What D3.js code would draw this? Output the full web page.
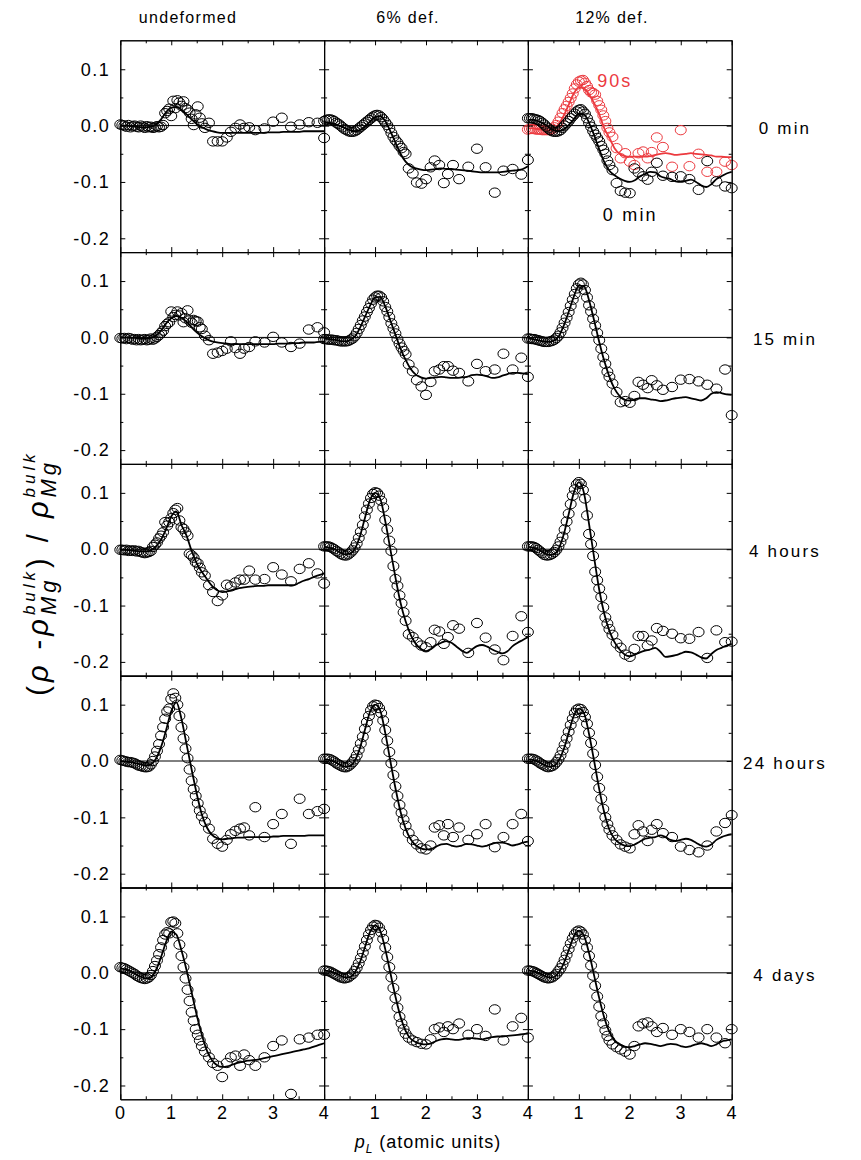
<!DOCTYPE html>
<html>
<head>
<meta charset="utf-8">
<script src="https://cdn.jsdelivr.net/npm/d3@7"></script>
<style>
  body { margin: 0; background: #fff; }
  text { font-family: "Liberation Sans", Arial, sans-serif; }
</style>
</head>
<body>
<div id="container"></div>
<script>
// row / column labels
const rowLabels = ["0 min", "15 min", "4 hours", "24 hours", "4 days"];
const colLabels = ["undeformed", "6% def.", "12% def."];

// momentum grid of the measured points, and grid of the fitted curves
const pGrid = [0,0.04,0.08,0.12,0.16,0.2,0.24,0.28,0.32,0.36,0.4,0.44,0.48,0.52,0.56,0.6,0.64,0.68,0.72,0.76,0.8,
  0.84,0.88,0.92,0.96,1,1.04,1.08,1.12,1.16,1.2,1.24,1.28,1.32,1.36,1.4,1.44,1.48,1.52,1.56,1.6,
  1.66,1.74,1.82,1.91,2,2.09,2.17,2.26,2.35,2.43,2.53,2.65,2.83,3,3.17,3.35,3.52,3.7,3.87,4];
const fitGrid = [0,0.1,0.2,0.3,0.4,0.5,0.6,0.7,0.8,0.9,1,1.1,1.2,1.3,1.4,1.5,1.6,1.7,1.8,1.9,
  2,2.1,2.2,2.3,2.4,2.5,2.6,2.7,2.8,2.9,3,3.1,3.2,3.3,3.4,3.5,3.6,3.7,3.8,3.9,4];

// ---- 0 min ----
const und0Pts = [0.002,0.001,0.000,-0.002,0.001,-0.003,-0.001,0.000,-0.002,-0.003,0.000,-0.002,-0.004,-0.001,-0.003,-0.002,-0.004,-0.003,-0.001,-0.003,-0.002,
  0.001,0.022,0.026,0.030,0.017,0.044,0.031,0.045,0.041,0.035,0.043,0.031,0.028,0.023,0.012,0.001,0.020,0.034,0.014,0.004,
  -0.004,0.005,-0.028,-0.028,-0.028,-0.021,-0.011,-0.004,0.002,-0.004,-0.003,-0.008,-0.005,0.007,0.014,-0.002,0.002,0.006,0.005,-0.022];
const und0Fit = [0,0,-0.001,-0.002,-0.003,-0.003,-0.002,0.002,0.011,0.024,0.032,0.033,0.028,0.020,0.011,0.003,-0.003,-0.007,-0.010,-0.012,
  -0.013,-0.013,-0.013,-0.013,-0.013,-0.013,-0.013,-0.013,-0.013,-0.012,-0.012,-0.012,-0.011,-0.011,-0.011,-0.011,-0.010,-0.010,-0.010,-0.010,-0.010];

const d6_0Pts = [0.008,0.010,0.011,0.011,0.010,0.008,0.005,0.003,0.000,-0.003,-0.006,-0.008,-0.010,-0.011,-0.011,-0.010,-0.008,-0.005,-0.002,0.001,0.004,
  0.007,0.010,0.013,0.016,0.018,0.019,0.018,0.015,0.011,0.006,0.001,-0.005,-0.013,-0.020,-0.026,-0.030,-0.036,-0.040,-0.047,-0.050,
  -0.076,-0.085,-0.101,-0.103,-0.095,-0.074,-0.062,-0.070,-0.102,-0.086,-0.070,-0.095,-0.073,-0.041,-0.074,-0.119,-0.080,-0.077,-0.087,-0.061];
const d6_0Fit = [0.006,0.005,0.003,0.000,-0.004,-0.008,-0.010,-0.008,-0.002,0.007,0.015,0.017,0.008,-0.010,-0.030,-0.050,-0.064,-0.072,-0.076,-0.078,
  -0.079,-0.078,-0.077,-0.076,-0.077,-0.077,-0.078,-0.079,-0.080,-0.081,-0.082,-0.083,-0.083,-0.083,-0.083,-0.082,-0.081,-0.080,-0.079,-0.077,-0.072];

const d12_0Pts = [0.013,0.013,0.013,0.012,0.011,0.010,0.008,0.005,0.002,-0.002,-0.005,-0.008,-0.010,-0.011,-0.011,-0.010,-0.008,-0.004,0.000,0.004,0.008,
  0.013,0.017,0.021,0.025,0.028,0.029,0.025,0.021,0.013,0.005,-0.002,-0.010,-0.016,-0.022,-0.028,-0.036,-0.043,-0.050,-0.062,-0.070,
  -0.079,-0.102,-0.116,-0.119,-0.120,-0.076,-0.083,-0.090,-0.096,-0.082,-0.066,-0.089,-0.091,-0.090,-0.095,-0.114,-0.063,-0.099,-0.108,-0.111];
const d12_0Fit = [0.010,0.010,0.008,0.004,-0.002,-0.008,-0.010,-0.007,0.001,0.011,0.021,0.020,0.005,-0.017,-0.042,-0.065,-0.080,-0.088,-0.094,-0.098,
  -0.100,-0.097,-0.090,-0.086,-0.082,-0.083,-0.090,-0.093,-0.095,-0.099,-0.100,-0.098,-0.096,-0.100,-0.106,-0.109,-0.104,-0.095,-0.090,-0.085,-0.082];

const d12_90sPts = [-0.007,-0.006,-0.006,-0.006,-0.007,-0.007,-0.007,-0.008,-0.008,-0.008,-0.008,-0.008,-0.006,-0.003,0.001,0.007,0.014,0.022,0.029,0.035,0.042,
  0.049,0.057,0.066,0.073,0.078,0.080,0.081,0.076,0.070,0.063,0.059,0.058,0.055,0.044,0.036,0.028,0.018,0.008,-0.004,-0.012,
  -0.020,-0.040,-0.058,-0.049,-0.064,-0.070,-0.049,-0.046,-0.058,-0.047,-0.021,-0.038,-0.073,-0.008,-0.072,-0.050,-0.082,-0.082,-0.064,-0.070];
const d12_90sFit = [-0.005,-0.005,-0.006,-0.007,-0.008,-0.006,0.002,0.017,0.037,0.057,0.068,0.066,0.055,0.040,0.020,-0.005,-0.022,-0.040,-0.050,-0.054,
  -0.055,-0.055,-0.055,-0.055,-0.054,-0.052,-0.050,-0.049,-0.050,-0.052,-0.051,-0.050,-0.049,-0.050,-0.051,-0.052,-0.053,-0.055,-0.055,-0.056,-0.056];

// ---- 15 min ----
const und15Pts = [-0.001,-0.002,-0.001,-0.003,-0.001,-0.002,-0.004,-0.003,-0.005,-0.003,-0.005,-0.004,-0.003,-0.005,-0.004,-0.002,-0.004,-0.002,0.001,0.004,0.008,
  0.012,0.020,0.024,0.027,0.046,0.036,0.040,0.046,0.039,0.043,0.027,0.034,0.048,0.030,0.026,0.031,0.029,0.028,0.018,0.015,
  0.003,-0.005,-0.029,-0.027,-0.024,-0.020,-0.007,-0.019,-0.029,-0.020,-0.017,-0.007,-0.009,0.001,-0.009,-0.017,-0.011,0.014,0.018,0.009];
const und15Fit = [0,0,-0.001,-0.001,-0.002,-0.002,-0.001,0.003,0.012,0.025,0.034,0.038,0.035,0.028,0.018,0.009,0.002,-0.003,-0.007,-0.009,
  -0.010,-0.011,-0.012,-0.012,-0.012,-0.012,-0.012,-0.012,-0.012,-0.012,-0.012,-0.011,-0.011,-0.011,-0.010,-0.010,-0.009,-0.009,-0.009,-0.008,-0.008];

const d6_15Pts = [-0.003,-0.003,-0.004,-0.004,-0.004,-0.005,-0.005,-0.006,-0.007,-0.007,-0.007,-0.007,-0.006,-0.004,-0.002,0.002,0.008,0.015,0.022,0.030,0.037,
  0.045,0.052,0.060,0.067,0.071,0.074,0.074,0.071,0.064,0.054,0.046,0.036,0.025,0.016,0.007,-0.003,-0.011,-0.018,-0.024,-0.030,
  -0.048,-0.060,-0.076,-0.087,-0.102,-0.079,-0.060,-0.057,-0.051,-0.051,-0.059,-0.063,-0.078,-0.047,-0.060,-0.057,-0.029,-0.057,-0.036,-0.070];
const d6_15Fit = [-0.002,-0.003,-0.004,-0.006,-0.007,-0.005,0.001,0.016,0.036,0.056,0.071,0.072,0.055,0.030,0.005,-0.020,-0.040,-0.056,-0.066,-0.071,
  -0.073,-0.072,-0.071,-0.070,-0.071,-0.072,-0.072,-0.071,-0.070,-0.067,-0.066,-0.067,-0.069,-0.072,-0.071,-0.068,-0.065,-0.063,-0.063,-0.064,-0.065];

const d12_15Pts = [-0.002,-0.002,-0.003,-0.003,-0.004,-0.005,-0.006,-0.007,-0.008,-0.008,-0.008,-0.007,-0.006,-0.004,-0.001,0.003,0.009,0.017,0.026,0.035,0.045,
  0.056,0.067,0.077,0.087,0.094,0.097,0.094,0.084,0.071,0.057,0.046,0.033,0.021,0.008,-0.005,-0.020,-0.035,-0.047,-0.061,-0.070,
  -0.082,-0.097,-0.115,-0.113,-0.116,-0.104,-0.079,-0.084,-0.090,-0.076,-0.085,-0.093,-0.088,-0.075,-0.074,-0.078,-0.084,-0.091,-0.057,-0.138];
const d12_15Fit = [-0.002,-0.003,-0.005,-0.007,-0.008,-0.006,0.001,0.020,0.045,0.072,0.092,0.091,0.066,0.030,-0.008,-0.042,-0.070,-0.091,-0.104,-0.111,
  -0.112,-0.110,-0.108,-0.108,-0.110,-0.111,-0.113,-0.112,-0.110,-0.108,-0.107,-0.106,-0.108,-0.110,-0.112,-0.108,-0.100,-0.097,-0.099,-0.101,-0.102];

// ---- 4 hours ----
const und4hPts = [-0.001,-0.001,-0.002,-0.001,-0.003,-0.002,-0.003,-0.002,-0.004,-0.003,-0.005,-0.006,-0.007,-0.006,-0.005,-0.003,0.004,0.008,0.012,0.019,0.024,
  0.030,0.048,0.042,0.048,0.055,0.064,0.070,0.073,0.051,0.039,0.036,0.030,0.024,-0.008,-0.011,-0.015,-0.023,-0.025,-0.033,-0.041,
  -0.047,-0.064,-0.076,-0.092,-0.082,-0.063,-0.066,-0.059,-0.054,-0.054,-0.038,-0.054,-0.053,-0.032,-0.045,-0.057,-0.035,-0.025,-0.043,-0.061];
const und4hFit = [-0.001,-0.001,-0.002,-0.003,-0.004,-0.004,-0.002,0.005,0.017,0.036,0.058,0.067,0.043,0.024,-0.003,-0.025,-0.040,-0.053,-0.065,-0.073,
  -0.076,-0.075,-0.072,-0.070,-0.068,-0.067,-0.066,-0.065,-0.065,-0.064,-0.064,-0.064,-0.064,-0.064,-0.064,-0.060,-0.056,-0.053,-0.049,-0.046,-0.043];

const d6_4hPts = [0.005,0.005,0.005,0.004,0.002,0.000,-0.003,-0.005,-0.008,-0.010,-0.011,-0.011,-0.009,-0.006,-0.002,0.003,0.010,0.020,0.031,0.043,0.058,
  0.070,0.081,0.091,0.098,0.101,0.100,0.095,0.086,0.074,0.052,0.035,0.015,-0.003,-0.030,-0.053,-0.065,-0.082,-0.096,-0.112,-0.127,
  -0.151,-0.156,-0.165,-0.171,-0.174,-0.165,-0.143,-0.146,-0.168,-0.156,-0.135,-0.141,-0.184,-0.131,-0.157,-0.178,-0.197,-0.154,-0.119,-0.147];
const d6_4hFit = [0.004,0.003,0.000,-0.005,-0.009,-0.008,0.000,0.022,0.055,0.087,0.100,0.090,0.050,0.000,-0.050,-0.095,-0.128,-0.152,-0.168,-0.177,
  -0.181,-0.177,-0.170,-0.166,-0.163,-0.166,-0.173,-0.180,-0.184,-0.178,-0.172,-0.170,-0.173,-0.178,-0.182,-0.185,-0.181,-0.172,-0.166,-0.161,-0.156];

const d12_4hPts = [0.005,0.005,0.005,0.004,0.002,-0.001,-0.004,-0.007,-0.010,-0.011,-0.011,-0.010,-0.008,-0.005,-0.001,0.005,0.013,0.022,0.035,0.049,0.063,
  0.080,0.095,0.106,0.115,0.119,0.116,0.105,0.090,0.060,0.027,0.009,-0.012,-0.040,-0.055,-0.070,-0.085,-0.103,-0.121,-0.132,-0.142,
  -0.152,-0.167,-0.175,-0.187,-0.191,-0.177,-0.154,-0.154,-0.171,-0.162,-0.140,-0.145,-0.150,-0.158,-0.159,-0.147,-0.193,-0.144,-0.165,-0.164];
const d12_4hFit = [0.004,0.003,0.000,-0.006,-0.010,-0.009,0.000,0.025,0.062,0.100,0.119,0.100,0.045,-0.015,-0.072,-0.115,-0.145,-0.165,-0.178,-0.187,
  -0.190,-0.187,-0.183,-0.180,-0.178,-0.175,-0.182,-0.191,-0.190,-0.188,-0.185,-0.182,-0.183,-0.187,-0.192,-0.194,-0.186,-0.179,-0.175,-0.171,-0.168];

// ---- 24 hours ----
const und24hPts = [0.002,0.001,0.000,-0.001,-0.002,-0.002,-0.003,-0.004,-0.006,-0.008,-0.009,-0.010,-0.011,-0.011,-0.010,-0.006,0.000,0.008,0.018,0.030,0.045,
  0.060,0.075,0.088,0.093,0.110,0.120,0.112,0.100,0.080,0.060,0.040,0.022,0.005,-0.015,-0.035,-0.050,-0.062,-0.075,-0.088,-0.098,
  -0.108,-0.120,-0.138,-0.147,-0.152,-0.140,-0.130,-0.124,-0.120,-0.118,-0.132,-0.082,-0.135,-0.112,-0.094,-0.147,-0.067,-0.094,-0.089,-0.085];
const und24hFit = [0.000,-0.001,-0.002,-0.004,-0.006,-0.008,-0.006,0.004,0.025,0.055,0.088,0.104,0.075,0.030,-0.015,-0.058,-0.095,-0.118,-0.131,-0.137,
  -0.139,-0.138,-0.137,-0.136,-0.136,-0.135,-0.135,-0.135,-0.135,-0.135,-0.134,-0.134,-0.133,-0.133,-0.133,-0.133,-0.133,-0.132,-0.132,-0.132,-0.132];

const d6_24hPts = [0.004,0.004,0.004,0.003,0.001,-0.001,-0.004,-0.006,-0.008,-0.010,-0.011,-0.011,-0.009,-0.006,-0.002,0.003,0.010,0.020,0.031,0.043,0.057,
  0.069,0.080,0.090,0.097,0.100,0.099,0.094,0.085,0.072,0.055,0.036,0.016,-0.004,-0.025,-0.045,-0.062,-0.078,-0.092,-0.104,-0.115,
  -0.128,-0.140,-0.148,-0.155,-0.157,-0.150,-0.118,-0.114,-0.132,-0.112,-0.135,-0.118,-0.140,-0.130,-0.112,-0.153,-0.135,-0.112,-0.094,-0.142];
const d6_24hFit = [0.003,0.002,-0.001,-0.006,-0.010,-0.009,0.000,0.022,0.055,0.087,0.100,0.090,0.050,0.000,-0.048,-0.090,-0.120,-0.139,-0.150,-0.155,
  -0.157,-0.156,-0.152,-0.148,-0.147,-0.150,-0.152,-0.150,-0.147,-0.148,-0.150,-0.152,-0.150,-0.147,-0.145,-0.145,-0.147,-0.150,-0.148,-0.145,-0.143];

const d12_24hPts = [0.004,0.004,0.004,0.003,0.001,-0.001,-0.004,-0.006,-0.008,-0.010,-0.011,-0.010,-0.009,-0.006,-0.002,0.003,0.010,0.019,0.029,0.040,0.052,
  0.064,0.075,0.085,0.091,0.093,0.092,0.087,0.078,0.066,0.050,0.032,0.013,-0.007,-0.028,-0.048,-0.067,-0.085,-0.100,-0.112,-0.122,
  -0.132,-0.140,-0.148,-0.152,-0.155,-0.130,-0.114,-0.125,-0.142,-0.122,-0.112,-0.128,-0.135,-0.152,-0.158,-0.162,-0.150,-0.125,-0.110,-0.096];
const d12_24hFit = [0.003,0.002,-0.001,-0.006,-0.010,-0.009,0.000,0.020,0.050,0.080,0.093,0.085,0.048,0.000,-0.050,-0.092,-0.122,-0.138,-0.146,-0.150,
  -0.151,-0.148,-0.143,-0.138,-0.136,-0.135,-0.132,-0.135,-0.140,-0.142,-0.140,-0.138,-0.140,-0.145,-0.150,-0.152,-0.148,-0.140,-0.135,-0.132,-0.130];

// ---- 4 days ----
const und4dPts = [0.010,0.009,0.008,0.006,0.004,0.002,0.000,-0.002,-0.005,-0.007,-0.009,-0.010,-0.011,-0.010,-0.008,-0.004,0.003,0.012,0.022,0.033,0.045,
  0.058,0.068,0.072,0.070,0.090,0.091,0.088,0.070,0.050,0.030,0.010,-0.010,-0.030,-0.050,-0.070,-0.085,-0.100,-0.110,-0.120,-0.130,
  -0.140,-0.150,-0.160,-0.165,-0.185,-0.160,-0.150,-0.147,-0.165,-0.145,-0.155,-0.165,-0.150,-0.130,-0.120,-0.215,-0.118,-0.115,-0.110,-0.110];
const und4dFit = [0.008,0.006,0.003,-0.002,-0.007,-0.010,-0.008,0.005,0.028,0.055,0.073,0.068,0.040,0.005,-0.035,-0.075,-0.110,-0.138,-0.155,-0.164,
  -0.167,-0.166,-0.163,-0.160,-0.158,-0.156,-0.155,-0.154,-0.152,-0.150,-0.148,-0.146,-0.144,-0.142,-0.140,-0.138,-0.136,-0.134,-0.131,-0.128,-0.125];

const d6_4dPts = [0.004,0.004,0.003,0.002,0.000,-0.002,-0.004,-0.006,-0.008,-0.009,-0.010,-0.009,-0.008,-0.005,-0.002,0.003,0.009,0.017,0.026,0.036,0.047,
  0.058,0.068,0.076,0.082,0.085,0.084,0.080,0.072,0.060,0.045,0.028,0.010,-0.008,-0.027,-0.045,-0.062,-0.078,-0.090,-0.100,-0.108,
  -0.115,-0.120,-0.123,-0.126,-0.127,-0.118,-0.100,-0.097,-0.105,-0.095,-0.100,-0.090,-0.110,-0.100,-0.112,-0.065,-0.120,-0.095,-0.080,-0.115];
const d6_4dFit = [0.004,0.003,0.000,-0.004,-0.008,-0.008,0.000,0.018,0.045,0.072,0.084,0.075,0.042,0.000,-0.042,-0.078,-0.103,-0.117,-0.123,-0.126,
  -0.127,-0.125,-0.121,-0.118,-0.117,-0.118,-0.119,-0.118,-0.116,-0.116,-0.117,-0.118,-0.116,-0.114,-0.113,-0.113,-0.112,-0.111,-0.110,-0.109,-0.108];

const d12_4dPts = [0.004,0.004,0.003,0.002,0.000,-0.002,-0.004,-0.006,-0.008,-0.009,-0.010,-0.009,-0.008,-0.005,-0.002,0.003,0.008,0.015,0.023,0.032,0.042,
  0.052,0.061,0.068,0.073,0.075,0.073,0.068,0.058,0.045,0.030,0.013,-0.005,-0.023,-0.042,-0.060,-0.077,-0.090,-0.102,-0.112,-0.120,
  -0.127,-0.132,-0.136,-0.140,-0.145,-0.130,-0.095,-0.090,-0.088,-0.095,-0.105,-0.098,-0.110,-0.100,-0.105,-0.115,-0.100,-0.115,-0.125,-0.100];
const d12_4dFit = [0.004,0.003,0.000,-0.004,-0.008,-0.008,0.000,0.016,0.040,0.064,0.075,0.066,0.035,-0.005,-0.045,-0.080,-0.105,-0.120,-0.127,-0.131,
  -0.132,-0.130,-0.127,-0.125,-0.126,-0.128,-0.130,-0.128,-0.126,-0.127,-0.130,-0.132,-0.130,-0.127,-0.125,-0.127,-0.130,-0.127,-0.122,-0.120,-0.118];

const RED = "#ec3a3f";

const panels = [
  { r: 0, c: 0, series: [{ pts: und0Pts, fit: und0Fit, color: "#000" }] },
  { r: 0, c: 1, series: [{ pts: d6_0Pts, fit: d6_0Fit, color: "#000" }] },
  { r: 0, c: 2, series: [{ pts: d12_90sPts, fit: d12_90sFit, color: RED }, { pts: d12_0Pts, fit: d12_0Fit, color: "#000" }] },
  { r: 1, c: 0, series: [{ pts: und15Pts, fit: und15Fit, color: "#000" }] },
  { r: 1, c: 1, series: [{ pts: d6_15Pts, fit: d6_15Fit, color: "#000" }] },
  { r: 1, c: 2, series: [{ pts: d12_15Pts, fit: d12_15Fit, color: "#000" }] },
  { r: 2, c: 0, series: [{ pts: und4hPts, fit: und4hFit, color: "#000" }] },
  { r: 2, c: 1, series: [{ pts: d6_4hPts, fit: d6_4hFit, color: "#000" }] },
  { r: 2, c: 2, series: [{ pts: d12_4hPts, fit: d12_4hFit, color: "#000" }] },
  { r: 3, c: 0, series: [{ pts: und24hPts, fit: und24hFit, color: "#000" }] },
  { r: 3, c: 1, series: [{ pts: d6_24hPts, fit: d6_24hFit, color: "#000" }] },
  { r: 3, c: 2, series: [{ pts: d12_24hPts, fit: d12_24hFit, color: "#000" }] },
  { r: 4, c: 0, series: [{ pts: und4dPts, fit: und4dFit, color: "#000" }] },
  { r: 4, c: 1, series: [{ pts: d6_4dPts, fit: d6_4dFit, color: "#000" }] },
  { r: 4, c: 2, series: [{ pts: d12_4dPts, fit: d12_4dFit, color: "#000" }] }
];

// layout
const width = 861, height = 1160;
const plotLeft = 120.3, plotTop = 40.3, pw = 203.8, ph = 211.8;

const x = d3.scaleLinear().domain([0, 4]).range([0, pw]);
const y = d3.scaleLinear().domain([-0.2245, 0.1514]).range([ph, 0]);

const svg = d3.select("#container").append("svg")
    .attr("width", width)
    .attr("height", height);

const FONT = "'Liberation Sans', Arial, sans-serif";

const line = d3.line()
    .x((d, i) => x(fitGrid[i]))
    .y(d => y(d))
    .curve(d3.curveMonotoneX);

panels.forEach(p => {
  const g = svg.append("g")
      .attr("transform", `translate(${plotLeft + p.c * pw}, ${plotTop + p.r * ph})`);

  // zero line
  g.append("line")
      .attr("x1", x(0)).attr("x2", x(4))
      .attr("y1", y(0)).attr("y2", y(0))
      .attr("stroke", "#000").attr("stroke-width", 1);

  p.series.forEach(s => {
    const sg = g.append("g");
    sg.append("path")
        .datum(s.fit)
        .attr("d", line)
        .attr("fill", "none")
        .attr("stroke", s.color)
        .attr("stroke-width", 1.8);
    sg.selectAll("ellipse").data(s.pts).join("ellipse")
        .attr("cx", (d, i) => x(pGrid[i]))
        .attr("cy", d => y(d))
        .attr("rx", 5.5).attr("ry", 4.7)
        .attr("fill", "none")
        .attr("stroke", s.color)
        .attr("stroke-width", 1);
  });

  // axes, ticks inside
  const yMaj = [-0.2, -0.1, 0, 0.1], yMin = [-0.15, -0.05, 0.05];
  const xMaj = [0, 1, 2, 3, 4], xMin = [0.5, 1.5, 2.5, 3.5];
  const blank = () => "";

  g.append("g").call(d3.axisLeft(y).tickValues(yMaj).tickSize(-5).tickSizeOuter(0).tickPadding(10)
      .tickFormat(p.c === 0 ? d => d.toFixed(1) : blank));
  g.append("g").call(d3.axisLeft(y).tickValues(yMin).tickSize(-3).tickSizeOuter(0).tickFormat(blank));
  g.append("g").attr("transform", `translate(${pw},0)`)
      .call(d3.axisRight(y).tickValues(yMaj).tickSize(-5).tickSizeOuter(0).tickFormat(blank));
  g.append("g").attr("transform", `translate(${pw},0)`)
      .call(d3.axisRight(y).tickValues(yMin).tickSize(-3).tickSizeOuter(0).tickFormat(blank));
  g.append("g").call(d3.axisTop(x).tickValues(xMaj).tickSize(-5).tickSizeOuter(0).tickFormat(blank));
  g.append("g").call(d3.axisTop(x).tickValues(xMin).tickSize(-3).tickSizeOuter(0).tickFormat(blank));
  g.append("g").attr("transform", `translate(0,${ph})`)
      .call(d3.axisBottom(x).tickValues(p.r === 4 ? (p.c === 0 ? xMaj : [1, 2, 3, 4]) : xMaj)
        .tickSize(-5).tickSizeOuter(0).tickPadding(7)
        .tickFormat(p.r === 4 ? d3.format("d") : blank));
  g.append("g").attr("transform", `translate(0,${ph})`)
      .call(d3.axisBottom(x).tickValues(xMin).tickSize(-3).tickSizeOuter(0).tickFormat(blank));

  g.selectAll("g").attr("font-family", FONT).attr("font-size", 18);
  g.selectAll(".domain").attr("stroke", "#000");
  g.selectAll(".tick line").attr("stroke", "#000");
  g.selectAll(".tick text")
      .attr("fill", "#000")
      .style("letter-spacing", "1.5px");
});

// column titles
const colX = [188, 408, 612];
colLabels.forEach((t, i) => {
  svg.append("text")
      .attr("x", colX[i]).attr("y", 23)
      .attr("text-anchor", "middle")
      .attr("font-size", 16)
      .style("letter-spacing", "1.3px")
      .text(t);
});

// row labels (right side)
rowLabels.forEach((t, i) => {
  svg.append("text")
      .attr("x", 785).attr("y", plotTop + i * ph + y(0) + 8)
      .attr("text-anchor", "middle")
      .attr("font-size", 17)
      .style("letter-spacing", "2.2px")
      .text(t);
});

// annotations in the 12% / 0 min panel
const gA = svg.append("g").attr("transform", `translate(${plotLeft + 2 * pw}, ${plotTop})`);
gA.append("text")
    .attr("x", x(1.36)).attr("y", y(0.068))
    .attr("font-size", 18).attr("fill", RED)
    .style("letter-spacing", "2px")
    .text("90s");
gA.append("text")
    .attr("x", x(1.47)).attr("y", y(-0.169))
    .attr("font-size", 18).attr("fill", "#000")
    .style("letter-spacing", "2.2px")
    .text("0 min");

// x axis title
const xt = svg.append("text")
    .attr("x", 428).attr("y", 1148)
    .attr("text-anchor", "middle")
    .attr("font-size", 18)
    .style("letter-spacing", "1px");
xt.append("tspan").attr("font-style", "italic").text("p");
xt.append("tspan").attr("font-style", "italic").attr("font-size", 12).attr("dy", 5).text("L");
xt.append("tspan").attr("dy", -5).text(" (atomic units)");

// y axis title with stacked super/subscripts
const yt = svg.append("text")
    .attr("transform", "translate(48,573) rotate(-90)")
    .attr("text-anchor", "middle")
    .attr("font-size", 29)
    .style("letter-spacing", "4px");

function rhoBulkMg(t) {
  const sup = t.append("tspan").attr("font-style", "italic").attr("font-size", 17).attr("dy", -13).text("bulk");
  const sub = t.append("tspan").attr("font-style", "italic").attr("font-size", 22).text("Mg");
  const wSup = sup.node().getComputedTextLength();
  sub.attr("dx", -wSup).attr("dy", 21);
  const wSub = sub.node().getComputedTextLength();
  return { back: -8, extra: Math.max(0, wSup - wSub) };
}

yt.append("tspan").text("(");
yt.append("tspan").attr("font-style", "italic").text("ρ");
yt.append("tspan").text(" -");
yt.append("tspan").attr("font-style", "italic").text("ρ");
const r1 = rhoBulkMg(yt);
yt.append("tspan").attr("dy", r1.back).attr("dx", r1.extra).text(") / ");
yt.append("tspan").attr("font-style", "italic").text("ρ");
rhoBulkMg(yt);
</script>
</body>
</html>
